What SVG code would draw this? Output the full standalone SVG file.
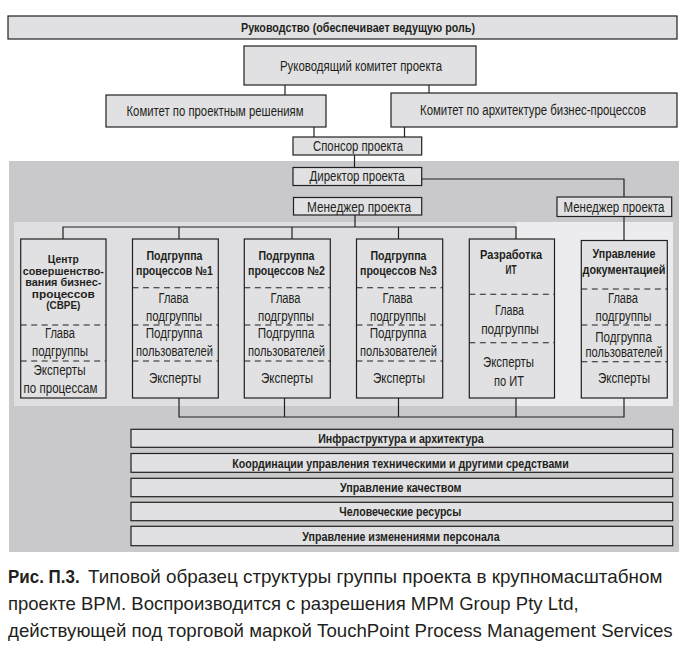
<svg xmlns="http://www.w3.org/2000/svg" width="692" height="652" viewBox="0 0 692 652">
<style>
.bx{fill:#e1e1e3;stroke:#231f20;stroke-width:1.2}
.bl{fill:none;stroke:#231f20;stroke-width:1.2}
.ds{fill:none;stroke:#231f20;stroke-width:1.1;stroke-dasharray:6 4.5}
.t{font-family:"Liberation Sans Narrow","Liberation Sans",Arial,sans-serif;font-size:14px;fill:#231f20;text-anchor:middle}
.tb{font-family:"Liberation Sans Narrow","Liberation Sans",Arial,sans-serif;font-size:12.5px;font-weight:bold;fill:#231f20;text-anchor:middle}
.ts{font-size:11.2px}
.cap{font-family:"Liberation Sans Narrow","Liberation Sans",Arial,sans-serif;font-size:18.5px;fill:#231f20}
</style>
<rect width="692" height="652" fill="#ffffff"/>
<rect x="9" y="161" width="670" height="391" fill="#c9c9cb"/>
<rect x="14" y="222" width="502" height="184" fill="#dfdfe1"/>
<rect x="516" y="222" width="157" height="184" fill="#ececee"/>

<g id="connectors" class="bl">
<line x1="285" y1="85" x2="285" y2="95"/>
<line x1="429" y1="85" x2="429" y2="93"/>
<line x1="314" y1="127" x2="314" y2="137"/>
<line x1="404.5" y1="127" x2="404.5" y2="137"/>
<line x1="354.5" y1="155" x2="354.5" y2="167.5"/>
<polyline points="421.7,179 624,179 624,197"/>
<line x1="355" y1="215" x2="355" y2="227"/>
<polyline points="63,239 63,227 516,227 516,239"/>
<line x1="179" y1="227" x2="179" y2="239"/>
<line x1="292" y1="227" x2="292" y2="239"/>
<line x1="398.5" y1="227" x2="398.5" y2="239"/>
<line x1="624" y1="216.5" x2="624" y2="240"/>
<polyline points="179,398 179,417 624,417 624,398"/>
<line x1="284.5" y1="398" x2="284.5" y2="417"/>
<line x1="398.5" y1="398" x2="398.5" y2="417"/>
<line x1="516" y1="398" x2="516" y2="417"/>
</g>

<g id="leadership">
<rect class="bx" x="8" y="16" width="669" height="23"/>
<text class="tb" x="358" y="32" textLength="234" lengthAdjust="spacingAndGlyphs">Руководство (обеспечивает ведущую роль)</text>
</g>
<g id="steering">
<rect class="bx" x="244" y="46" width="232" height="39"/>
<text class="t" x="361" y="71" textLength="162" lengthAdjust="spacingAndGlyphs">Руководящий комитет проекта</text>
</g>
<g id="solutions-committee">
<rect class="bx" x="106" y="95" width="220" height="32"/>
<text class="t" x="215" y="116" textLength="177" lengthAdjust="spacingAndGlyphs">Комитет по проектным решениям</text>
</g>
<g id="architecture-committee">
<rect class="bx" x="391" y="93" width="286" height="34"/>
<text class="t" x="533" y="115" font-size="12" textLength="226" lengthAdjust="spacingAndGlyphs">Комитет по архитектуре бизнес-процессов</text>
</g>
<g id="sponsor">
<rect class="bx" x="293" y="137" width="128.7" height="18"/>
<text class="t" x="358" y="151" textLength="90" lengthAdjust="spacingAndGlyphs">Спонсор проекта</text>
</g>
<g id="director">
<rect class="bx" x="293" y="167.5" width="128.7" height="18"/>
<text class="t" x="357" y="181" textLength="95" lengthAdjust="spacingAndGlyphs">Директор проекта</text>
</g>
<g id="manager-main">
<rect class="bx" x="293.5" y="197.5" width="128.2" height="17.5"/>
<text class="t" x="359" y="211.5" textLength="104" lengthAdjust="spacingAndGlyphs">Менеджер проекта</text>
</g>
<g id="manager-doc">
<rect class="bx" x="557" y="197" width="114.7" height="19.5"/>
<text class="t" x="614" y="212" textLength="101" lengthAdjust="spacingAndGlyphs">Менеджер проекта</text>
</g>

<g id="cbpe">
<rect class="bx" x="20.7" y="239" width="85.3" height="159"/>
<line class="ds" x1="20.7" y1="325" x2="106" y2="325"/>
<line class="ds" x1="20.7" y1="361" x2="106" y2="361"/>
<text class="tb ts" x="63.3" y="263" textLength="31" lengthAdjust="spacingAndGlyphs">Центр</text>
<text class="tb ts" x="63.3" y="274.5" textLength="81" lengthAdjust="spacingAndGlyphs">совершенство-</text>
<text class="tb ts" x="63.3" y="286" textLength="76" lengthAdjust="spacingAndGlyphs">вания бизнес-</text>
<text class="tb ts" x="63.3" y="297.5" textLength="63" lengthAdjust="spacingAndGlyphs">процессов</text>
<text class="tb ts" x="63.3" y="309" textLength="34" lengthAdjust="spacingAndGlyphs">(СВРЕ)</text>
<text class="t" x="60" y="338" textLength="30" lengthAdjust="spacingAndGlyphs">Глава</text>
<text class="t" x="60" y="356" textLength="56" lengthAdjust="spacingAndGlyphs">подгруппы</text>
<text class="t" x="59.5" y="375" textLength="52" lengthAdjust="spacingAndGlyphs">Эксперты</text>
<text class="t" x="60.5" y="393" textLength="74" lengthAdjust="spacingAndGlyphs">по процессам</text>
</g>

<g id="subgroup-1">
<rect class="bx" x="132.5" y="239" width="85.8" height="159"/>
<line class="ds" x1="132.5" y1="287.7" x2="218.3" y2="287.7"/>
<line class="ds" x1="132.5" y1="325" x2="218.3" y2="325"/>
<line class="ds" x1="132.5" y1="361" x2="218.3" y2="361"/>
<text class="tb" x="174.5" y="259.5" textLength="56" lengthAdjust="spacingAndGlyphs">Подгруппа</text>
<text class="tb" x="174.5" y="275" textLength="77" lengthAdjust="spacingAndGlyphs">процессов №1</text>
<text class="t" x="173.5" y="303" textLength="30" lengthAdjust="spacingAndGlyphs">Глава</text>
<text class="t" x="174" y="321" textLength="56" lengthAdjust="spacingAndGlyphs">подгруппы</text>
<text class="t" x="174" y="338" textLength="56.7" lengthAdjust="spacingAndGlyphs">Подгруппа</text>
<text class="t" x="174.5" y="356" textLength="77" lengthAdjust="spacingAndGlyphs">пользователей</text>
<text class="t" x="175" y="383" textLength="52" lengthAdjust="spacingAndGlyphs">Эксперты</text>
</g>

<g id="subgroup-2">
<rect class="bx" x="244.3" y="239" width="86" height="159"/>
<line class="ds" x1="244.3" y1="287.7" x2="330.3" y2="287.7"/>
<line class="ds" x1="244.3" y1="325" x2="330.3" y2="325"/>
<line class="ds" x1="244.3" y1="361" x2="330.3" y2="361"/>
<text class="tb" x="286.5" y="259.5" textLength="56" lengthAdjust="spacingAndGlyphs">Подгруппа</text>
<text class="tb" x="286.5" y="275" textLength="77" lengthAdjust="spacingAndGlyphs">процессов №2</text>
<text class="t" x="285.5" y="303" textLength="30" lengthAdjust="spacingAndGlyphs">Глава</text>
<text class="t" x="286" y="321" textLength="56" lengthAdjust="spacingAndGlyphs">подгруппы</text>
<text class="t" x="286" y="338" textLength="56.7" lengthAdjust="spacingAndGlyphs">Подгруппа</text>
<text class="t" x="286.5" y="356" textLength="77" lengthAdjust="spacingAndGlyphs">пользователей</text>
<text class="t" x="287" y="383" textLength="52" lengthAdjust="spacingAndGlyphs">Эксперты</text>
</g>

<g id="subgroup-3">
<rect class="bx" x="356.5" y="239" width="86.2" height="159"/>
<line class="ds" x1="356.5" y1="287.7" x2="442.7" y2="287.7"/>
<line class="ds" x1="356.5" y1="325" x2="442.7" y2="325"/>
<line class="ds" x1="356.5" y1="361" x2="442.7" y2="361"/>
<text class="tb" x="398.5" y="259.5" textLength="56" lengthAdjust="spacingAndGlyphs">Подгруппа</text>
<text class="tb" x="398.5" y="275" textLength="77" lengthAdjust="spacingAndGlyphs">процессов №3</text>
<text class="t" x="397.5" y="303" textLength="30" lengthAdjust="spacingAndGlyphs">Глава</text>
<text class="t" x="398" y="321" textLength="56" lengthAdjust="spacingAndGlyphs">подгруппы</text>
<text class="t" x="398" y="338" textLength="56.7" lengthAdjust="spacingAndGlyphs">Подгруппа</text>
<text class="t" x="398.5" y="356" textLength="77" lengthAdjust="spacingAndGlyphs">пользователей</text>
<text class="t" x="399" y="383" textLength="52" lengthAdjust="spacingAndGlyphs">Эксперты</text>
</g>

<g id="it-dev">
<rect class="bx" x="469.3" y="239" width="85.2" height="159"/>
<line class="ds" x1="469.3" y1="294.3" x2="554.5" y2="294.3"/>
<line class="ds" x1="469.3" y1="342.7" x2="554.5" y2="342.7"/>
<text class="tb" x="511" y="258.5" textLength="62" lengthAdjust="spacingAndGlyphs">Разработка</text>
<text class="tb" x="511" y="273.5" textLength="11" lengthAdjust="spacingAndGlyphs">ИТ</text>
<text class="t" x="509.5" y="315" textLength="29" lengthAdjust="spacingAndGlyphs">Глава</text>
<text class="t" x="510" y="333.5" textLength="57.7" lengthAdjust="spacingAndGlyphs">подгруппы</text>
<text class="t" x="508.5" y="367" textLength="51" lengthAdjust="spacingAndGlyphs">Эксперты</text>
<text class="t" x="509" y="386" textLength="30" lengthAdjust="spacingAndGlyphs">по ИТ</text>
</g>

<g id="doc-management">
<rect class="bx" x="581.3" y="240.5" width="86" height="157.5"/>
<line class="ds" x1="581.3" y1="289" x2="667.3" y2="289"/>
<line class="ds" x1="581.3" y1="325" x2="667.3" y2="325"/>
<line class="ds" x1="581.3" y1="361.7" x2="667.3" y2="361.7"/>
<text class="tb" x="624" y="258" textLength="63" lengthAdjust="spacingAndGlyphs">Управление</text>
<text class="tb" x="624" y="274" textLength="83" lengthAdjust="spacingAndGlyphs">документацией</text>
<text class="t" x="623" y="303" textLength="30" lengthAdjust="spacingAndGlyphs">Глава</text>
<text class="t" x="623.5" y="321" textLength="56" lengthAdjust="spacingAndGlyphs">подгруппы</text>
<text class="t" x="623.5" y="341.5" textLength="56.7" lengthAdjust="spacingAndGlyphs">Подгруппа</text>
<text class="t" x="624" y="357" textLength="77" lengthAdjust="spacingAndGlyphs">пользователей</text>
<text class="t" x="624" y="383" textLength="52" lengthAdjust="spacingAndGlyphs">Эксперты</text>
</g>

<g id="infrastructure">
<rect class="bx" x="131" y="429.3" width="541.7" height="18"/>
<text class="tb" x="401" y="443" textLength="165.6" lengthAdjust="spacingAndGlyphs">Инфраструктура и архитектура</text>
</g>
<g id="coordination">
<rect class="bx" x="131" y="453.5" width="541.7" height="18.8"/>
<text class="tb" x="400.5" y="467.5" textLength="336.5" lengthAdjust="spacingAndGlyphs">Координации управления техническими и другими средствами</text>
</g>
<g id="quality">
<rect class="bx" x="131" y="478.3" width="541.7" height="18.4"/>
<text class="tb" x="400.8" y="492" textLength="121.4" lengthAdjust="spacingAndGlyphs">Управление качеством</text>
</g>
<g id="hr">
<rect class="bx" x="131" y="502.3" width="541.7" height="18.4"/>
<text class="tb" x="400.3" y="516" textLength="122" lengthAdjust="spacingAndGlyphs">Человеческие ресурсы</text>
</g>
<g id="change-management">
<rect class="bx" x="131" y="526.3" width="541.7" height="19.4"/>
<text class="tb" x="400.9" y="540.5" textLength="197.4" lengthAdjust="spacingAndGlyphs">Управление изменениями персонала</text>
</g>

<g id="caption">
<text class="cap" x="8" y="583" font-weight="bold" textLength="71.6" lengthAdjust="spacingAndGlyphs">Рис. П.3.</text>
<text class="cap" x="88" y="583" textLength="574.4" lengthAdjust="spacingAndGlyphs">Типовой образец структуры группы проекта в крупномасштабном</text>
<text class="cap" x="8" y="610" textLength="570.6" lengthAdjust="spacingAndGlyphs">проекте BPM. Воспроизводится с разрешения MPM Group Pty Ltd,</text>
<text class="cap" x="8" y="637" textLength="664.7" lengthAdjust="spacingAndGlyphs">действующей под торговой маркой TouchPoint Process Management Services</text>
</g>
</svg>
